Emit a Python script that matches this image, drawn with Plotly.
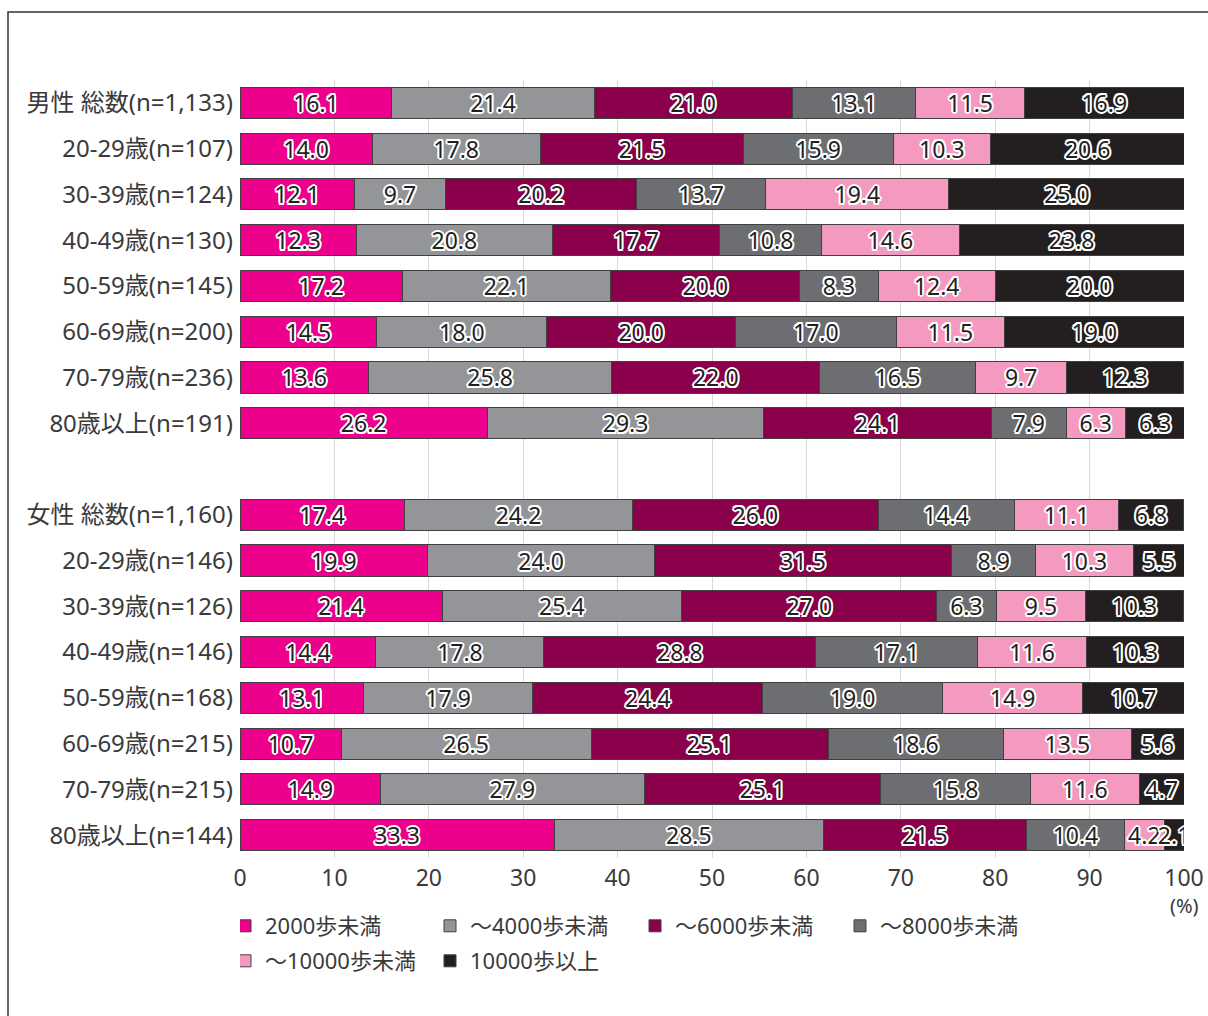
import plotly.graph_objects as go

categories = [
    "男性 総数(n=1,133)", "20-29歳(n=107)", "30-39歳(n=124)", "40-49歳(n=130)",
    "50-59歳(n=145)", "60-69歳(n=200)", "70-79歳(n=236)", "80歳以上(n=191)",
    " ",
    "女性 総数(n=1,160)", "20-29歳(n=146)", "30-39歳(n=126)", "40-49歳(n=146)",
    "50-59歳(n=168)", "60-69歳(n=215)", "70-79歳(n=215)", "80歳以上(n=144)",
]

series_names = ["2000歩未満", "～4000歩未満", "～6000歩未満", "～8000歩未満", "～10000歩未満", "10000歩以上"]

s_2000 = [16.1, 14.0, 12.1, 12.3, 17.2, 14.5, 13.6, 26.2, None, 17.4, 19.9, 21.4, 14.4, 13.1, 10.7, 14.9, 33.3]
s_4000 = [21.4, 17.8, 9.7, 20.8, 22.1, 18.0, 25.8, 29.3, None, 24.2, 24.0, 25.4, 17.8, 17.9, 26.5, 27.9, 28.5]
s_6000 = [21.0, 21.5, 20.2, 17.7, 20.0, 20.0, 22.0, 24.1, None, 26.0, 31.5, 27.0, 28.8, 24.4, 25.1, 25.1, 21.5]
s_8000 = [13.1, 15.9, 13.7, 10.8, 8.3, 17.0, 16.5, 7.9, None, 14.4, 8.9, 6.3, 17.1, 19.0, 18.6, 15.8, 10.4]
s_10000 = [11.5, 10.3, 19.4, 14.6, 12.4, 11.5, 9.7, 6.3, None, 11.1, 10.3, 9.5, 11.6, 14.9, 13.5, 11.6, 4.2]
s_over = [16.9, 20.6, 25.0, 23.8, 20.0, 19.0, 12.3, 6.3, None, 6.8, 5.5, 10.3, 10.3, 10.7, 5.6, 4.7, 2.1]

series_values = [s_2000, s_4000, s_6000, s_8000, s_10000, s_over]
colors = ["#EC008C", "#939598", "#8B004B", "#6D6E71", "#F49AC1", "#231F20"]
legend_rows = ["legend", "legend", "legend", "legend", "legend2", "legend2"]
x_ticks = [0, 10, 20, 30, 40, 50, 60, 70, 80, 90, 100]

FONT = "Noto Sans, Noto Sans CJK JP, sans-serif"

W, H = 1208, 1016
ML, MR, MT, MB = 240, 24, 80, 158
PW, PH = W - ML - MR, H - MT - MB

outline = ", ".join(f"{dx}px {dy}px 0 #ffffff" for dx, dy in
                    [(-2, 0), (2, 0), (0, -2), (0, 2), (-1.5, -1.5), (1.5, -1.5), (-1.5, 1.5), (1.5, 1.5)])

fig = go.Figure()
for name, vals, col, lg in zip(series_names, series_values, colors, legend_rows):
    fig.add_trace(go.Bar(
        y=categories, x=vals, name=name, orientation="h",
        marker=dict(color=col, line=dict(color="#404040", width=1)),
        width=0.68, legend=lg,
        texttemplate="%{x:.1f}", textposition="inside", insidetextanchor="middle",
        textangle=0, constraintext="none",
        insidetextfont=dict(family=FONT, size=23, color="#231F20", shadow=outline),
        hoverinfo="x+y+name",
    ))

legend_common = dict(orientation="h", x=0, xanchor="left", yanchor="middle",
                     entrywidth=175, font=dict(size=22, family=FONT, color="#3a3a3a"),
                     traceorder="normal", itemclick=False, indentation=-15,
                     bgcolor="rgba(0,0,0,0)")

fig.update_layout(
    barmode="stack",
    width=W, height=H,
    margin=dict(l=ML, r=MR, t=MT, b=MB, autoexpand=False),
    paper_bgcolor="white", plot_bgcolor="white",
    font=dict(family=FONT, size=22, color="#3a3a3a"),
    xaxis=dict(range=[0, 100], tickvals=x_ticks, showgrid=True, gridcolor="#d9d9d9", gridwidth=1,
               zeroline=False, showline=False, ticks="", tickfont=dict(size=23), ticklabelstandoff=4,
               ticklabeloverflow="allow"),
    yaxis=dict(autorange="reversed", showgrid=False, zeroline=False, showline=False, ticks="",
               tickfont=dict(size=24), ticklabelstandoff=6),
    showlegend=True,
    legend=dict(y=(MT + PH - 926) / PH, **legend_common),
    legend2=dict(y=(MT + PH - 961) / PH, **legend_common),
    bargap=0.32,
)

fig.add_annotation(text="(%)", xref="paper", yref="paper", x=1.0, y=-0.043, xanchor="center",
                   yanchor="top", showarrow=False, borderpad=0,
                   font=dict(size=20, color="#3a3a3a"))

fig.add_shape(type="rect", xref="paper", yref="paper",
              x0=(8 - ML) / PW, x1=(W + 10 - ML) / PW,
              y0=(MT + PH - (H + 10)) / PH, y1=(MT + PH - 12) / PH,
              line=dict(color="#333333", width=1.5), fillcolor="rgba(0,0,0,0)", layer="below")

fig.write_html("out.html", config={"displayModeBar": False},
               post_script="document.body.style.margin='0';document.body.style.overflow='hidden';")
